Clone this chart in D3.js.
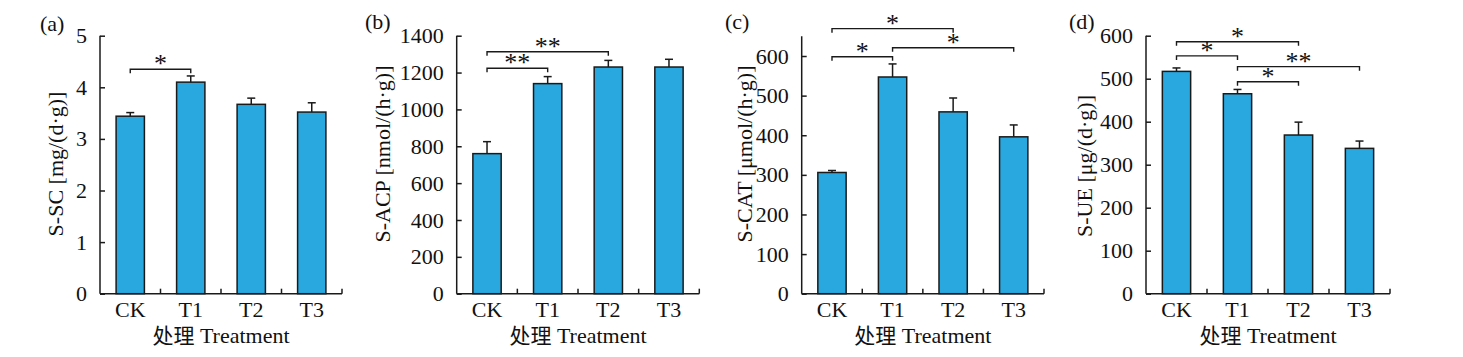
<!DOCTYPE html>
<html>
<head>
<meta charset="utf-8">
<script src="https://cdn.jsdelivr.net/npm/d3@7"></script>
<style>
  html, body { margin: 0; padding: 0; background: #fff; }
  svg { display: block; }
</style>
</head>
<body>
<svg id="chart" width="1463" height="357"></svg>
<script>
// ---------------- DATA ----------------
const categories = ["CK", "T1", "T2", "T3"];

const sscValues = [3.44, 4.10, 3.67, 3.52];
const sscErrors = [0.07, 0.12, 0.12, 0.18];
const sscTicks  = [0, 1, 2, 3, 4, 5];
const sscDomain = [0, 5];
const sscSig    = [["CK", "T1", "*", 4.35]];

const acpValues = [760, 1140, 1230, 1230];
const acpErrors = [65, 38, 36, 42];
const acpTicks  = [0, 200, 400, 600, 800, 1000, 1200, 1400];
const acpDomain = [0, 1400];
const acpSig    = [["CK", "T2", "**", 1313], ["CK", "T1", "**", 1223]];

const catValues = [306, 547, 459, 396];
const catErrors = [5, 33, 35, 30];
const catTicks  = [0, 100, 200, 300, 400, 500, 600];
const catDomain = [0, 650];
const catSig    = [["CK", "T2", "*", 669], ["T1", "T3", "*", 621], ["CK", "T1", "*", 598]];

const ueValues = [517, 465, 369, 338];
const ueErrors = [8, 10, 30, 17];
const ueTicks  = [0, 100, 200, 300, 400, 500, 600];
const ueDomain = [0, 600];
const ueSig    = [["CK", "T2", "*", 586], ["CK", "T1", "*", 553], ["T1", "T3", "**", 528], ["T1", "T2", "*", 493]];

const panelTags   = ["(a)", "(b)", "(c)", "(d)"];
const yTitles     = ["S-SC [mg/(d·g)]", "S-ACP [nmol/(h·g)]", "S-CAT [μmol/(h·g)]", "S-UE [μg/(d·g)]"];
const xTitleCn    = "处理";
const xTitleEn    = "Treatment";

// ---------------- LAYOUT ----------------
const panels = [
  { values: sscValues, errors: sscErrors, ticks: sscTicks, domain: sscDomain, sig: sscSig,
    x0: 100, x1: 342, tagX: 40, tagY: 31, titleX: 55, titleY: 164 },
  { values: acpValues, errors: acpErrors, ticks: acpTicks, domain: acpDomain, sig: acpSig,
    x0: 456.7, x1: 699.3, tagX: 365, tagY: 29, titleX: 382, titleY: 154 },
  { values: catValues, errors: catErrors, ticks: catTicks, domain: catDomain, sig: catSig,
    x0: 801.7, x1: 1044, tagX: 725, tagY: 29, titleX: 744, titleY: 154 },
  { values: ueValues, errors: ueErrors, ticks: ueTicks, domain: ueDomain, sig: ueSig,
    x0: 1146, x1: 1390, tagX: 1069, tagY: 29, titleX: 1084, titleY: 166 }
];

const yBottom = 293.7;
const yTopFor = d => d === 650 ? 36.2 : 35.7;
const barW = 28.3;
const capW = 8;
const barColor = "#29a8e0";
const ink = "#1a1a1a";
const serif = "'Liberation Serif', 'Times New Roman', serif";
const fs = 22;

const svg = d3.select("#chart");

panels.forEach((p, i) => {
  const g = svg.append("g");
  const x = d3.scaleBand().domain(categories).range([p.x0, p.x1]).padding(0);
  const y = d3.scaleLinear().domain(p.domain).range([yBottom, yTopFor(p.domain[1])]);
  const cx = c => x(c) + x.bandwidth() / 2;

  // bars
  g.selectAll("rect.bar").data(categories).enter().append("rect")
    .attr("x", c => cx(c) - barW / 2)
    .attr("y", (c, j) => y(p.values[j]))
    .attr("width", barW)
    .attr("height", (c, j) => y(0) - y(p.values[j]))
    .attr("fill", barColor)
    .attr("stroke", ink)
    .attr("stroke-width", 1.5);

  // error bars (upper only)
  categories.forEach((c, j) => {
    const top = y(p.values[j] + p.errors[j]);
    g.append("line").attr("x1", cx(c)).attr("x2", cx(c))
      .attr("y1", y(p.values[j])).attr("y2", top)
      .attr("stroke", ink).attr("stroke-width", 1.5);
    g.append("line").attr("x1", cx(c) - capW / 2).attr("x2", cx(c) + capW / 2)
      .attr("y1", top).attr("y2", top)
      .attr("stroke", ink).attr("stroke-width", 1.5);
  });

  // y axis
  const yAxis = d3.axisLeft(y).tickValues(p.ticks).tickSize(-5).tickPadding(13).tickFormat(d3.format("d"));
  const ya = g.append("g").attr("transform", `translate(${p.x0},0)`).call(yAxis);
  ya.select(".domain").remove();
  ya.selectAll(".tick line").attr("stroke", ink).attr("stroke-width", 1.5);
  ya.selectAll(".tick text").attr("font-family", serif).attr("font-size", fs).attr("fill", "#111");
  g.append("line").attr("x1", p.x0).attr("x2", p.x0)
    .attr("y1", y(0)).attr("y2", y(p.domain[1]))
    .attr("stroke", ink).attr("stroke-width", 1.5);

  // x axis
  g.append("line").attr("x1", p.x0).attr("x2", p.x1)
    .attr("y1", y(0)).attr("y2", y(0))
    .attr("stroke", ink).attr("stroke-width", 1.5);
  categories.forEach((c, j) => {
    const bx = x(c) + x.bandwidth();
    g.append("line").attr("x1", bx).attr("x2", bx)
      .attr("y1", y(0)).attr("y2", y(0) - 5)
      .attr("stroke", ink).attr("stroke-width", 1.5);
    g.append("text").attr("x", cx(c)).attr("y", 317)
      .attr("text-anchor", "middle")
      .attr("font-family", serif).attr("font-size", fs).attr("fill", "#111")
      .text(c);
  });

  // x title
  const xt = g.append("text").attr("x", (p.x0 + p.x1) / 2).attr("y", 343)
    .attr("text-anchor", "middle").attr("font-size", fs).attr("fill", "#111");
  xt.append("tspan").attr("font-family", "'Noto Sans CJK SC', sans-serif").attr("font-size", 21).text(xTitleCn);
  xt.append("tspan").attr("font-family", serif).text(" " + xTitleEn);

  // y title
  g.append("text")
    .attr("transform", `translate(${p.titleX},${p.titleY}) rotate(-90)`)
    .attr("text-anchor", "middle").attr("dy", "0.35em")
    .attr("font-family", serif).attr("font-size", fs).attr("fill", "#111")
    .text(yTitles[i]);

  // panel tag
  g.append("text").attr("x", p.tagX).attr("y", p.tagY)
    .attr("font-family", serif).attr("font-size", fs).attr("fill", "#111")
    .text(panelTags[i]);

  // significance brackets
  p.sig.forEach(([a, b, mark, level]) => {
    const xa = cx(a), xb = cx(b), ly = y(level);
    g.append("path")
      .attr("d", `M${xa},${ly + 4}V${ly}H${xb}V${ly + 4}`)
      .attr("fill", "none").attr("stroke", ink).attr("stroke-width", 1.4);
    g.append("text").attr("x", (xa + xb) / 2).attr("y", ly + 3)
      .attr("text-anchor", "middle")
      .attr("font-family", serif).attr("font-size", 26).attr("fill", "#111")
      .text(mark);
  });
});
</script>
</body>
</html>
